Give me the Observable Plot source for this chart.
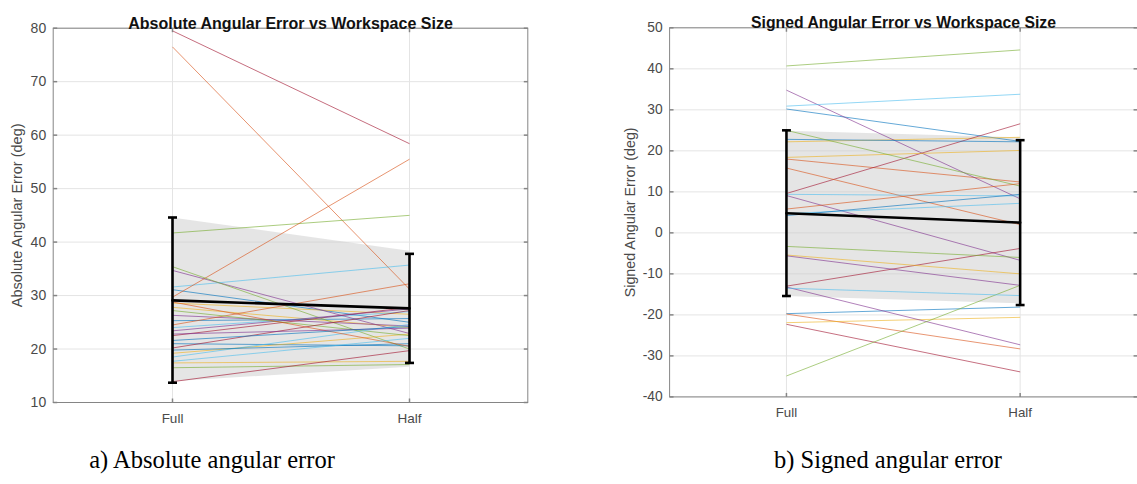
<!DOCTYPE html>
<html>
<head>
<meta charset="utf-8">
<script src="https://cdn.jsdelivr.net/npm/d3@7"></script>
<script src="https://cdn.jsdelivr.net/npm/@observablehq/plot@0.6"></script>
<style>
  body { margin: 0; background: #fff; }
  #fig { position: relative; width: 1137px; height: 484px; overflow: hidden; background: #fff; }
  .panel { position: absolute; top: 0; }
  .caption { position: absolute; top: 446px; font-family: "Liberation Serif", "DejaVu Serif", serif; font-size: 24.5px; color: #000; transform: translateX(-50%); white-space: nowrap; }
</style>
</head>
<body>
<div id="fig">
  <div class="panel" id="panelA" style="left:0px"></div>
  <div class="panel" id="panelB" style="left:570px"></div>
  <div class="caption" style="left:212px">a) Absolute angular error</div>
  <div class="caption" style="left:888px">b) Signed angular error</div>
</div>
<script>
// Workspace conditions on the x axis
const conditions = ["Full", "Half"];

// Absolute angular error per participant (deg), in plotting order
const absFull = [31.1, 76.5, 28.6, 34.7, 41.7, 31.6, 79.5,
                 25.3, 29.7, 27.8, 26.3, 35.4, 24.0, 22.5,
                 21.0, 24.5, 19.2, 23.4, 27.2, 18.5, 20.2,
                 19.8, 28.8, 17.4, 22.8, 16.5, 17.7, 13.9,
                 21.6];
const absHalf = [25.0, 31.2, 26.5, 22.9, 45.0, 35.7, 58.4,
                 25.7, 55.5, 24.0, 24.3, 20.0, 27.0, 27.8,
                 20.6, 32.2, 22.8, 27.5, 22.5, 24.6, 27.2,
                 21.0, 20.5, 17.7, 23.9, 17.1, 22.0, 19.7,
                 24.2];
// Group mean, error bar limits and shaded spread (Full, Half)
const absMean = [29.1, 27.6];
const absErrLo = [13.7, 17.4];
const absErrHi = [44.6, 37.8];
const absBandLo = [13.9, 16.6];
const absBandHi = [44.5, 38.3];
const absTicks = [10, 20, 30, 40, 50, 60, 70, 80];

// Signed angular error per participant (deg), in plotting order
const sgnFull = [30.2, 18.0, 22.2, 34.8, 40.7, 30.9, 9.6,
                 22.8, 15.8, 18.4, 9.1, 25.0, 9.4, -13.0,
                 -19.7, 5.8, -5.4, -5.6, -3.3, 4.7, -22.3,
                 4.2, -19.8, -21.9, -13.2, -34.9, -13.5];
const sgnHalf = [22.3, 12.4, 23.3, 8.3, 44.6, 33.8, 26.6,
                 22.2, 2.0, 20.1, -6.7, 11.4, 9.0, -3.8,
                 -18.1, 12.0, -10.0, -12.8, -6.0, 7.2, -33.9,
                 9.4, -28.3, -20.6, -27.3, -12.8, -15.3];
const sgnMean = [4.8, 2.5];
const sgnErrLo = [-15.4, -17.6];
const sgnErrHi = [25.0, 22.6];
const sgnBandLo = [-15.5, -17.3];
const sgnBandHi = [24.8, 23.2];
const sgnTicks = [-40, -30, -20, -10, 0, 10, 20, 30, 40, 50];

// MATLAB default line colour order, cycled over participants
const colorOrder = ["#0072BD", "#D95319", "#EDB120", "#7E2F8E", "#77AC30", "#4DBEEE", "#A2142F"];

// Short line glyphs used as error-bar caps and inward axis ticks
const capSymbol = { draw(ctx) { ctx.moveTo(-4.5, 0); ctx.lineTo(4.5, 0); } };
const tickRight = { draw(ctx) { ctx.moveTo(0, 0); ctx.lineTo(4, 0); } };
const tickLeft  = { draw(ctx) { ctx.moveTo(0, 0); ctx.lineTo(-4, 0); } };
const tickUp    = { draw(ctx) { ctx.moveTo(0, 0); ctx.lineTo(0, -4); } };
const tickDown  = { draw(ctx) { ctx.moveTo(0, 0); ctx.lineTo(0, 4); } };

function panel({full, half, mean, errLo, errHi, bandLo, bandHi, ticks, domain, title, ylabel,
                width, marginLeft, marginRight, labelDx}) {
  const subjects = full.map((f, i) => ({full: f, half: half[i], color: colorOrder[i % colorOrder.length]}));
  const summary = conditions.map((c, i) => ({
    cond: c, mean: mean[i], lo: errLo[i], hi: errHi[i], bandLo: bandLo[i], bandHi: bandHi[i]
  }));
  const ends = summary.flatMap(d => [{cond: d.cond, y: d.lo}, {cond: d.cond, y: d.hi}]);

  return Plot.plot({
    width, height: 440,
    marginLeft, marginRight, marginTop: 27.7, marginBottom: 38,
    style: {fontFamily: "'Liberation Sans', Arial, sans-serif", background: "transparent", overflow: "visible"},
    x: {type: "point", domain: conditions, padding: 0.5},
    y: {domain},
    marks: [
      Plot.gridY(ticks, {stroke: "#e4e4e4", strokeOpacity: 1}),
      Plot.gridX(conditions, {stroke: "#e4e4e4", strokeOpacity: 1}),
      Plot.areaY(summary, {x: "cond", y1: "bandLo", y2: "bandHi", fill: "#c8c8c8", fillOpacity: 0.48}),
      Plot.link(subjects, {
        x1: () => conditions[0], x2: () => conditions[1],
        y1: "full", y2: "half",
        stroke: "color", strokeWidth: 1, strokeOpacity: 0.62
      }),
      Plot.line(summary, {x: "cond", y: "mean", stroke: "black", strokeWidth: 2.6}),
      Plot.ruleX(summary, {x: "cond", y1: "lo", y2: "hi", stroke: "black", strokeWidth: 2.6}),
      Plot.dot(ends, {x: "cond", y: "y", symbol: capSymbol, fill: "none", stroke: "black", strokeWidth: 2.6}),
      Plot.frame({stroke: "#858585"}),
      Plot.dot(ticks, {y: d => d, frameAnchor: "left", symbol: tickRight, fill: "none", stroke: "#858585"}),
      Plot.dot(ticks, {y: d => d, frameAnchor: "right", symbol: tickLeft, fill: "none", stroke: "#858585"}),
      Plot.dot(conditions, {x: d => d, frameAnchor: "bottom", symbol: tickUp, fill: "none", stroke: "#858585"}),
      Plot.dot(conditions, {x: d => d, frameAnchor: "top", symbol: tickDown, fill: "none", stroke: "#858585"}),
      Plot.axisY(ticks, {tickSize: 0, tickPadding: 7, fontSize: 14, color: "#4a4a4a", label: null, tickFormat: d => String(d)}),
      Plot.axisX(conditions, {tickSize: 0, tickPadding: 11, fontSize: 13.5, color: "#4a4a4a", label: null}),
      Plot.text([ylabel], {frameAnchor: "left", rotate: -90, dx: labelDx, fontSize: 14.5, fill: "#4a4a4a", textAnchor: "middle"}),
      Plot.text([title], {frameAnchor: "top", dy: -11, fontSize: 16, fontWeight: "bold", fill: "#111"})
    ]
  });
}

document.getElementById("panelA").append(panel({
  full: absFull, half: absHalf, mean: absMean, errLo: absErrLo, errHi: absErrHi,
  bandLo: absBandLo, bandHi: absBandHi, ticks: absTicks, domain: [10, 80],
  title: "Absolute Angular Error vs Workspace Size", ylabel: "Absolute Angular Error (deg)",
  width: 568, marginLeft: 52.7, marginRight: 40.7, labelDx: -35.5
}));

document.getElementById("panelB").append(panel({
  full: sgnFull, half: sgnHalf, mean: sgnMean, errLo: sgnErrLo, errHi: sgnErrHi,
  bandLo: sgnBandLo, bandHi: sgnBandHi, ticks: sgnTicks, domain: [-40, 50],
  title: "Signed Angular Error vs Workspace Size", ylabel: "Signed Angular Error (deg)",
  width: 575, marginLeft: 100.5, marginRight: 0, labelDx: -39.5
}));
</script>
</body>
</html>
